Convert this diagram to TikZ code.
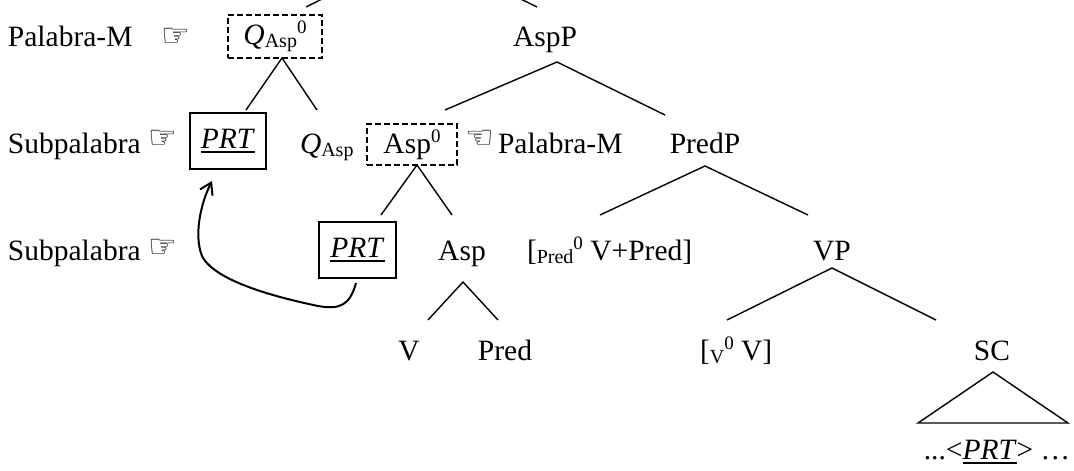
\documentclass[tikz,border=0pt]{standalone}
\usepackage{fontspec}
\setmainfont{Liberation Serif}
\newfontfamily\symf{DejaVu Sans}
\usetikzlibrary{arrows.meta}
\newcommand\sbx[1]{\raisebox{-3pt}{\fontsize{20}{22}\selectfont #1}}
\newcommand\spx[1]{\raisebox{11pt}{\fontsize{19}{22}\selectfont #1}}
\newcommand\ulp[1]{\setbox0=\hbox{#1}\leavevmode\rlap{\rule[-5pt]{\wd0}{2.2pt}}\box0}
\tikzset{
  lbl/.style={inner sep=0pt, outer sep=0pt, font=\fontsize{29.5}{34}\selectfont, anchor=base},
  lblw/.style={lbl, anchor=base west},
  hand/.style={inner sep=0pt, outer sep=0pt, font=\symf\fontsize{32}{34}\selectfont},
  solidbox/.style={draw, line width=2pt, inner sep=0pt, font=\fontsize{29.5}{34}\selectfont},
  dashbox/.style={draw, line width=2pt, dash pattern=on 6pt off 3pt, inner sep=0pt, font=\fontsize{29.5}{34}\selectfont},
  branch/.style={line width=1.4pt},
  movearrow/.style={line width=2pt, -{Straight Barb[length=11pt,width=14pt,line width=2pt]}},
}
\begin{document}
\begin{tikzpicture}[x=1pt,y=-1pt]
\useasboundingbox (0,0) rectangle (1074,471);
\clip (0,0) rectangle (1074,471);
% row 1
\node[lblw] (pm1) at (8,46) {Palabra-M};
\node[hand] (h1) at (176,37) {☞};
\node[dashbox, minimum width=94pt, minimum height=43pt] (qbox) at (275,36.5) {\textit{Q}\sbx{Asp}\spx{0}};
\node[lbl] (aspP) at (545,46) {AspP};
% row 2
\node[lblw] (sub1) at (8,153) {Subpalabra};
\node[hand] (h2) at (163,139) {☞};
\node[solidbox, minimum width=76pt, minimum height=56pt] (prt1) at (228,141) {\ulp{\textit{PRT}}};
\node[lblw] (qasp) at (300,153) {\textit{Q}\sbx{Asp}};
\node[dashbox, minimum width=90pt, minimum height=41pt] (asp0) at (412,144.5) {Asp\spx{0}};
\node[hand] (h3) at (480,139) {☜};
\node[lblw] (pm2) at (498,153) {Palabra-M};
\node[lbl] (predP) at (705,153) {PredP};
% row 3
\node[lblw] (sub2) at (8,260) {Subpalabra};
\node[hand] (h4) at (163,248) {☞};
\node[solidbox, minimum width=77pt, minimum height=56pt] (prt2) at (357.5,250) {\ulp{\textit{PRT}}};
\node[lbl] (asp) at (462,260) {Asp};
\node[lblw] (predv) at (527,260) {[\sbx{Pred}\spx{0} V+Pred]};
\node[lbl] (vp) at (832,260) {VP};
% row 4
\node[lbl] (v) at (409,360) {V};
\node[lbl] (pred) at (505,360) {Pred};
\node[lblw] (v0v) at (700,360) {[\sbx{V}\spx{0} V]};
\node[lbl] (sc) at (992,360) {SC};
% row 5
\node[lbl] (dots) at (997,459) {...<\ulp{\textit{PRT}}> \ldots};
% branch points
\coordinate (root) at (421,-50);
\coordinate (rootL) at (306,7);
\coordinate (rootR) at (537,7);
\coordinate (qA) at (282,58);
\coordinate (qL) at (246,110);
\coordinate (qR) at (317,110);
\coordinate (apA) at (557,62);
\coordinate (apL) at (445,110);
\coordinate (apR) at (665,115);
\coordinate (a0A) at (417,165);
\coordinate (a0L) at (381,215);
\coordinate (a0R) at (452,215);
\coordinate (ppA) at (705,166);
\coordinate (ppL) at (600,215);
\coordinate (ppR) at (808,215);
\coordinate (aA) at (463,282);
\coordinate (aL) at (428,320);
\coordinate (aR) at (498,320);
\coordinate (vpA) at (832,268);
\coordinate (vpL) at (727,320);
\coordinate (vpR) at (936,320);
\coordinate (scA) at (993,372);
\coordinate (scL) at (918,423);
\coordinate (scR) at (1068,423);
\draw[branch] (rootL) -- (root) -- (rootR);
\draw[branch] (qL) -- (qA) -- (qR);
\draw[branch] (apL) -- (apA) -- (apR);
\draw[branch] (a0L) -- (a0A) -- (a0R);
\draw[branch] (ppL) -- (ppA) -- (ppR);
\draw[branch] (aL) -- (aA) -- (aR);
\draw[branch] (vpL) -- (vpA) -- (vpR);
\draw[branch] (scA) -- (scL) -- (scR) -- cycle;
% movement arrow
\coordinate (mvS) at (356,283);
\coordinate (mvE) at (212,181);
\draw[movearrow] (mvS) .. controls (350,305) and (340,310) .. (318,306)
  .. controls (280,298) and (215,282) .. (202,256)
  .. controls (194,236) and (200,205) .. (mvE);
\end{tikzpicture}
\end{document}
